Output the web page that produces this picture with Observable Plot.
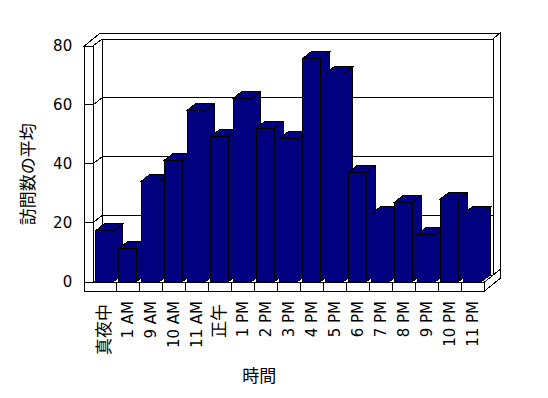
<!DOCTYPE html>
<html><head><meta charset="utf-8">
<script src="https://cdn.jsdelivr.net/npm/d3@7"></script>
<script src="https://cdn.jsdelivr.net/npm/@observablehq/plot@0.6"></script>
<style>body{margin:0;background:#fff}</style>
</head><body><div id="chart"></div>
<script>
const categories = ["真夜中","1 AM","9 AM","10 AM","11 AM","正午","1 PM","2 PM","3 PM","4 PM","5 PM","6 PM","7 PM","8 PM","9 PM","10 PM","11 PM"];
const values = [17.2,11.1,34.1,41.2,58.2,49.1,62.3,52.1,48.5,75.7,70.6,37.1,23.0,26.9,16.0,28.0,23.0];
const yTicks = [0,20,40,60,80];
const yLabel = "訪問数の平均";
const xLabel = "時間";
const data = categories.map((c,i)=>({category:c, value:values[i]}));

const DX = 9, DY = 7;
const DX2 = 16, DY2 = 13;
const WALL = 8.7;
const FONT = '"DejaVu Sans", "Noto Sans CJK JP", sans-serif';
const CJK = '"Noto Sans CJK JP", sans-serif';

const P = pts => "M" + pts.map(p => p[0] + "," + p[1]).join("L");

function frame(index, scales) {
  const x = scales.x, y = scales.y;
  const step = x(categories[1]) - x(categories[0]);
  const X0 = x(categories[0]), X1 = x(categories[categories.length-1]) + step;
  const Y0 = y(0), YT = y(yTicks[yTicks.length-1]);
  const WL = X0 - WALL;
  const F0 = Y0 + 1, F1 = Y0 + 10;
  const g = d3.create("svg:g").attr("stroke","black").attr("fill","white")
    .attr("stroke-width",1).attr("shape-rendering","crispEdges");
  const poly = pts => g.append("path").attr("d", P(pts) + "Z");
  const line = pts => g.append("path").attr("fill","none").attr("d", P(pts));
  poly([[X0+DX,YT-DY],[X1+DX,YT-DY],[X1+DX,F0-DY],[X0+DX,F0-DY]]);
  poly([[X0,YT],[X0+DX,YT-DY],[X0+DX,F0-DY],[X0,F0]]);
  for (const v of yTicks.slice(1,-1)) line([[X0,y(v)],[X0+DX,y(v)-DY],[X1+DX,y(v)-DY]]);
  poly([[X0,F0],[X1,F0],[X1+DX,F0-DY],[X0+DX,F0-DY]]);
  poly([[WL,YT],[X0,YT],[X0+DX,YT-DY],[X1+DX,YT-DY],[X1+DX2,YT-DY2],[WL+DX2,YT-DY2]]);
  poly([[X1+DX,YT-DY],[X1+DX2,YT-DY2],[X1+DX2,F0-DY2],[X1+DX,F0-DY]]);
  poly([[X1,F0],[X1,F1],[X1+DX2,F1-DY2],[X1+DX2,F0-DY2]]);
  poly([[WL,YT],[X0,YT],[X0,F0],[WL,F0]]);
  for (const v of yTicks.slice(1,-1)) line([[WL,y(v)],[X0,y(v)]]);
  poly([[WL,F0],[X1,F0],[X1,F1],[WL,F1]]);
  for (const c of categories.slice(1)) line([[x(c),F0],[x(c),F1]]);
  return g.node();
}

function bars(index, scales) {
  const x = scales.x, y = scales.y;
  const step = x(categories[1]) - x(categories[0]);
  const g = d3.create("svg:g").attr("fill","#000080").attr("stroke","black")
    .attr("stroke-width",1).attr("shape-rendering","crispEdges");
  for (const d of data) {
    const x0 = x(d.category) + 0.1*step, x1 = x(d.category) + 0.9*step;
    const yv = y(d.value), y0 = y(0);
    g.append("path").attr("d", P([[x1,yv],[x1+DX,yv-DY],[x1+DX,y0-DY],[x1,y0]]) + "Z");
    g.append("path").attr("d", P([[x0,yv],[x1,yv],[x1+DX,yv-DY],[x0+DX,yv-DY]]) + "Z");
    g.append("path").attr("d", P([[x0,yv],[x1,yv],[x1,y0],[x0,y0]]) + "Z");
  }
  return g.node();
}

const isCJK = s => /[^\x00-\x7F]/.test(s);

const chart = Plot.plot({
  width: 548, height: 398,
  marginTop: 46, marginBottom: 116.5, marginLeft: 91.7, marginRight: 62.3,
  style: {fontFamily: FONT, fontSize: "15px", background: "white", color: "black"},
  x: {type: "band", domain: categories, padding: 0, axis: null},
  y: {type: "linear", domain: [0, 80], axis: null},
  marks: [
    frame,
    bars,
    Plot.axisY({ticks: yTicks, tickSize: 0, tickPadding: 20, fontSize: 15, label: null, tickFormat: d => String(d)}),
    Plot.text(categories.filter(c => !isCJK(c)), {x: d => d, text: d => d, frameAnchor: "bottom", dy: 19, rotate: -90, textAnchor: "end", lineAnchor: "middle", fontSize: 15, fill: "black"}),
    Plot.text(categories.filter(isCJK), {x: d => d, text: d => d, frameAnchor: "bottom", dy: 22, rotate: -90, textAnchor: "end", lineAnchor: "middle", fontSize: 17, fontFamily: CJK, fill: "black"}),
    Plot.text([yLabel], {text: d => d, frameAnchor: "left", dx: -64, dy: 10, rotate: -90, textAnchor: "middle", lineAnchor: "middle", fontSize: 17, fontFamily: CJK, fill: "black"}),
    Plot.text([xLabel], {text: d => d, frameAnchor: "bottom", dx: -30, dy: 95, textAnchor: "middle", lineAnchor: "middle", fontSize: 17, fontFamily: CJK, fill: "black"})
  ]
});
document.getElementById("chart").appendChild(chart);
</script>
</body></html>
